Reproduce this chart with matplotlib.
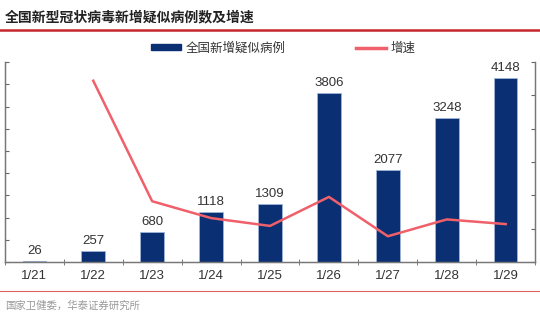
import matplotlib
matplotlib.use("Agg")
import matplotlib.pyplot as plt
from matplotlib.lines import Line2D
from matplotlib.patches import Patch
import numpy as np

plt.rcParams["font.family"] = ["Liberation Sans", "Noto Sans CJK SC", "DejaVu Sans"]

dates = ["1/21", "1/22", "1/23", "1/24", "1/25", "1/26", "1/27", "1/28", "1/29"]
cases = [26, 257, 680, 1118, 1309, 3806, 2077, 3248, 4148]
# growth rate in %, none for the first day
growth = [np.nan, 888, 165, 64, 17, 191, -45, 56, 28]

bar_color = "#0b2f73"
line_color = "#f0606a"
cjk = ["Noto Sans CJK SC", "DejaVu Sans"]

fig = plt.figure(figsize=(5.4, 3.2), dpi=100)
ax = fig.add_axes([0.009, 0.181, 0.982, 0.625])
x = np.arange(len(dates))
ax.bar(x, cases, width=0.4, color=bar_color, edgecolor="#9fb6d8", linewidth=0.6, zorder=2)
for xi, v in zip(x, cases):
    ax.text(xi, v + 90, str(v), ha="center", va="bottom", fontsize=9.5, color="#333333")

ax.set_xlim(-0.5, len(dates) - 0.5)
ax.set_ylim(0, 4500)
ax.set_yticks(np.arange(0, 4501, 500))
ax.set_yticklabels([])
ax.set_xticks(x)
ax.set_xticklabels(dates, fontsize=9.5, color="#333333")
ax.set_xticks(np.arange(-0.5, len(dates)), minor=True)
ax.tick_params(axis="x", which="major", length=0, pad=6)
ax.tick_params(axis="x", which="minor", length=5, direction="inout", color="#666666")
ax.tick_params(axis="y", direction="in", length=3, color="#666666")
ax.spines["top"].set_visible(False)
for s in ["left", "right", "bottom"]:
    ax.spines[s].set_color("#777777")
    ax.spines[s].set_linewidth(1)

ax2 = ax.twinx()
ax2.plot(x, growth, color=line_color, linewidth=1.8, zorder=3)
ax2.set_ylim(-200, 1000)
ax2.set_yticks(np.arange(-200, 1001, 200))
ax2.set_yticklabels([])
ax2.tick_params(axis="y", direction="in", length=3, color="#666666")
ax2.spines["top"].set_visible(False)
for s in ["left", "right", "bottom"]:
    ax2.spines[s].set_color("#777777")

handles = [Patch(facecolor=bar_color, edgecolor=bar_color), Line2D([0], [0], color=line_color, linewidth=2.5)]
leg = fig.legend(handles, ["全国新增疑似病例", "增速"], loc="center", bbox_to_anchor=(0.525, 0.85),
                 ncol=2, frameon=False, prop={"family": cjk, "size": 9},
                 handlelength=2.4, handleheight=0.45, columnspacing=5.6, handletextpad=0.4)
for t in leg.get_texts():
    t.set_color("#333333")

fig.text(0.009, 0.945, "全国新型冠状病毒新增疑似病例数及增速", family=cjk, fontsize=10,
         fontweight="bold", color="#222222", va="center", ha="left")
fig.add_artist(Line2D([0, 1], [0.905, 0.905], color="#c8282d", linewidth=1.8))
fig.add_artist(Line2D([0, 1], [0.09, 0.09], color="#e06060", linewidth=0.8))
fig.text(0.009, 0.045, "国家卫健委，华泰证券研究所", family=cjk, fontsize=7.5,
         color="#999999", va="center", ha="left")

fig.savefig("out.png", dpi=100)
plt.close(fig)
